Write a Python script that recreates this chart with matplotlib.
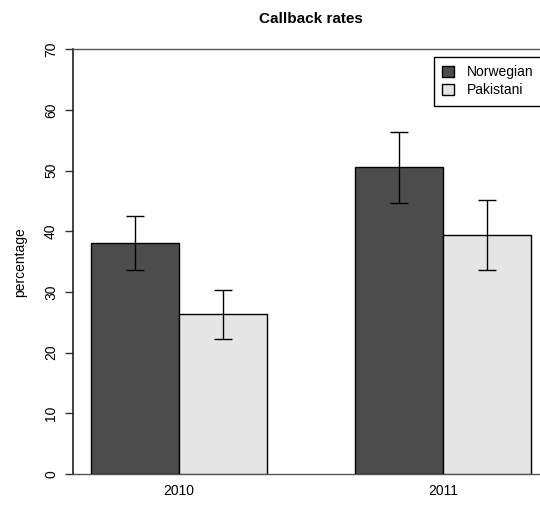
import numpy as np
import matplotlib
matplotlib.use("Agg")
import matplotlib.pyplot as plt

plt.rcParams['font.family'] = ['Liberation Sans', 'DejaVu Sans']

# data
years = ["2010", "2011"]
groups = ["Norwegian", "Pakistani"]
norwegian = [38.1, 50.6]
pakistani = [26.3, 39.4]
norwegian_lo = [33.6, 44.7]
norwegian_hi = [42.5, 56.4]
pakistani_lo = [22.2, 33.6]
pakistani_hi = [30.4, 45.1]
colors = ["#4d4d4d", "#e5e5e5"]

fig = plt.figure(figsize=(5.4, 5.07), dpi=100)
W, H = 540, 507
left, right, top, bot = 73.4, 548.6, 49.3, 474
ax = fig.add_axes([left / W, 1 - bot / H, (right - left) / W, (bot - top) / H])

# R barplot layout: bar width 1, one unit gap before each group
centers = np.array([2.0, 5.0])
vals = [norwegian, pakistani]
los = [norwegian_lo, pakistani_lo]
his = [norwegian_hi, pakistani_hi]
for i in range(2):
    x = centers + (i - 0.5)
    v = np.array(vals[i])
    ax.bar(x, v, width=1.0, color=colors[i], edgecolor="black", linewidth=1.0,
           label=groups[i], zorder=3)
    err = [v - np.array(los[i]), np.array(his[i]) - v]
    ax.errorbar(x, v, yerr=err, fmt="none", ecolor="black", elinewidth=1.0,
                capsize=6.2, capthick=1.0, zorder=4)

ax.set_xlim(0.8, 6.2)
ax.set_ylim(0, 70)
ax.set_yticks(range(0, 71, 10))
ax.set_xticks(centers)
ax.set_xticklabels(years)
ax.tick_params(axis="x", length=0, pad=7, labelsize=10)
ax.tick_params(axis="y", length=6, width=1, direction="out", pad=5,
               labelsize=10, labelrotation=90, color="#333333")
for lab in ax.get_yticklabels():
    lab.set_va("center")

ax.spines["right"].set_visible(False)
ax.spines["left"].set_color("#222222")
ax.spines["left"].set_linewidth(1.2)
for s in ["top", "bottom"]:
    ax.spines[s].set_color("#555555")
    ax.spines[s].set_linewidth(1.0)

ax.set_ylabel("percentage", fontsize=10, labelpad=12)
ax.set_title("Callback rates", fontsize=11, fontweight="bold", pad=19)

leg = ax.legend(loc="upper right", bbox_to_anchor=(0.985, 0.982), fontsize=10,
                handlelength=0.85, handleheight=0.85, handletextpad=0.9,
                labelspacing=0.3, borderpad=0.6, borderaxespad=0,
                fancybox=False, framealpha=1, edgecolor="black")
leg.get_frame().set_linewidth(1.0)

fig.savefig("out.png", dpi=100)
